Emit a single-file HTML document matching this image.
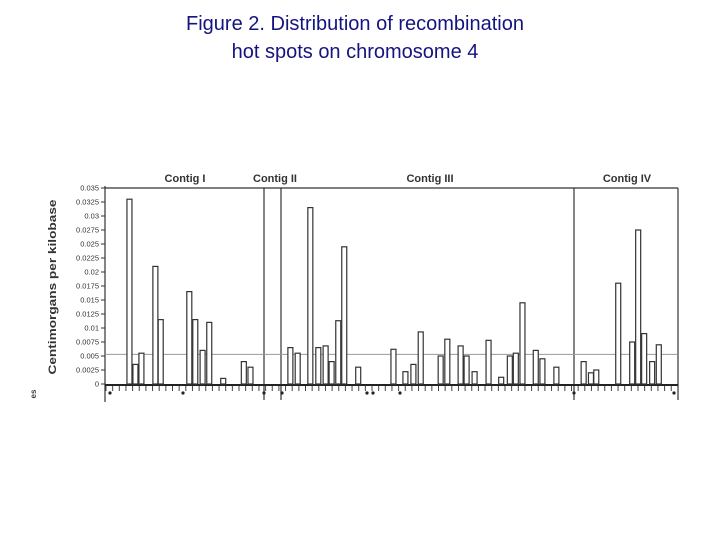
<!DOCTYPE html>
<html><head><meta charset="utf-8">
<style>
body{margin:0;width:720px;height:540px;background:#fff;overflow:hidden;font-family:"Liberation Sans",sans-serif;}
#title{position:absolute;left:0;top:10px;width:710px;text-align:center;color:#141480;font-size:20px;line-height:28px;}
svg{position:absolute;left:0;top:0;}
</style></head><body>
<div id="title">Figure 2. Distribution of recombination<br>hot spots on chromosome 4</div>
<svg id="chart" width="720" height="540"></svg>
<script>
const slots=[3.0,3.9,4.8,6.9,7.7,12.0,12.9,14.0,15.0,17.1,20.2,21.2,27.2,28.3,30.2,31.4,32.5,33.4,34.4,35.3,37.4,42.7,44.5,45.7,46.8,49.8,50.8,52.8,53.7,54.9,57.0,58.9,60.2,61.1,62.1,64.1,65.1,67.2,71.3,72.4,73.2,76.5,78.6,79.5,80.4,81.6,82.6];
const values=[0.033,0.0035,0.0055,0.021,0.0115,0.0165,0.0115,0.006,0.011,0.001,0.004,0.003,0.0065,0.0055,0.0315,0.0065,0.0068,0.004,0.0113,0.0245,0.003,0.0062,0.0022,0.0035,0.0093,0.005,0.008,0.0068,0.005,0.0022,0.0078,0.0012,0.005,0.0055,0.0145,0.006,0.0045,0.003,0.004,0.002,0.0025,0.018,0.0075,0.0275,0.009,0.004,0.007];
const yTicks=["0","0.0025","0.005","0.0075","0.01","0.0125","0.015","0.0175","0.02","0.0225","0.025","0.0275","0.03","0.0325","0.035"];
const contigs=["Contig I","Contig II","Contig III","Contig IV"];
const contigCenters=[185,275,430,627];
const separators=[264,281,574];
const threshold=0.0053;
const svg=document.getElementById('chart');
const NS='http://www.w3.org/2000/svg';
const y=v=>384-v*5600;
const x=s=>107+s*6.65;
function mk(t,a){const e=document.createElementNS(NS,t);for(const k in a)e.setAttribute(k,a[k]);svg.appendChild(e);return e;}
let e=mk('line',{x1:105,y1:188,x2:678,y2:188,stroke:'#555','stroke-width':1.5});


e=mk('line',{x1:105,y1:186,x2:105,y2:402,stroke:'#333','stroke-width':1.2});


e=mk('line',{x1:678,y1:188,x2:678,y2:400,stroke:'#333','stroke-width':1.2});


separators.forEach(sx=>{
 e=mk('line',{x1:sx,y1:188,x2:sx,y2:400,stroke:'#333','stroke-width':1.2});
 
 
});
e=mk('line',{x1:105,y1:y(threshold),x2:678,y2:y(threshold),stroke:'#999','stroke-width':1});


yTicks.forEach((t,i)=>{
 const v=i*0.0025;
 e=mk('line',{x1:101,y1:y(v),x2:105,y2:y(v),stroke:'#333','stroke-width':1});
 
 
 e=mk('text',{x:99,y:y(v)+2.5,'text-anchor':'end','font-size':7.5,fill:'#333'});
 e.textContent=t;
 
 
});
e=mk('text',{x:0,y:0,transform:'translate(56,287) rotate(-90)','text-anchor':'middle','font-size':11,'font-weight':'bold',fill:'#333',textLength:175,lengthAdjust:'spacingAndGlyphs'});
e.textContent='Centimorgans per kilobase';


e=mk('text',{x:0,y:0,transform:'translate(36,394) rotate(-90)','text-anchor':'middle','font-size':8,'font-weight':'bold',fill:'#444'});
e.textContent='es';


contigs.forEach((c,i)=>{
 e=mk('text',{x:contigCenters[i],y:182,'text-anchor':'middle','font-size':11,'font-weight':'bold',fill:'#333'});
 e.textContent=c;
 
 
});
for(let s=0;s<86;s++){
 const tx=x(s)-1;
 if(tx>677)break;
 e=mk('line',{x1:tx,y1:385,x2:tx,y2:391,stroke:'#444','stroke-width':1});
 
 
}
e=mk('line',{x1:105,y1:385,x2:678,y2:385,stroke:'#222','stroke-width':2});


slots.forEach((s,i)=>{
 const top=y(values[i]);
 e=mk('rect',{x:x(s),y:top,width:5,height:384-top,fill:'#fff',stroke:'#333','stroke-width':1.2});
 
 
});
[110,183,264,282,367,373,400,574,674].forEach(mx=>{
 e=mk('circle',{cx:mx,cy:393,r:1.6,fill:'#222'});
 
 
});
</script>
</body></html>
